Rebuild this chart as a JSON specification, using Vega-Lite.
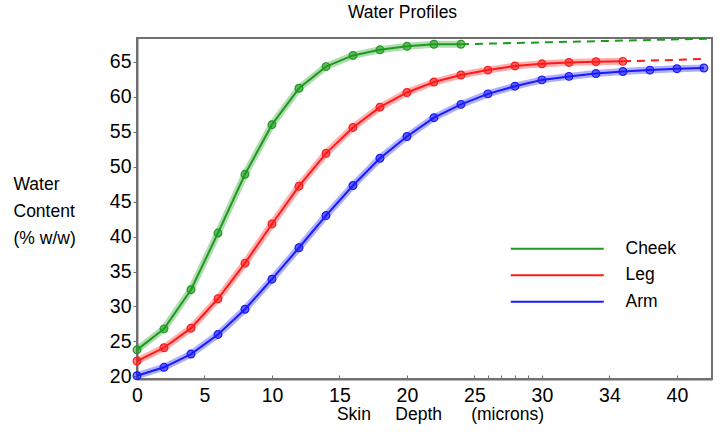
{
  "$schema": "https://vega.github.io/schema/vega-lite/v6.json",
  "width": 575,
  "height": 341,
  "autosize": {"type": "none"},
  "padding": {"left": 137, "top": 38, "right": 8, "bottom": 56},
  "background": "white",
  "title": {
    "text": "Water Profiles",
    "fontSize": 17.5,
    "fontWeight": "normal",
    "font": "Liberation Sans",
    "anchor": "middle",
    "dx": -22,
    "baseline": "bottom",
    "offset": -9
  },
  "config": {
    "font": "Liberation Sans",
    "view": {"stroke": "#707070", "strokeWidth": 2},
    "axis": {
      "grid": false,
      "domainColor": "#707070",
      "domainWidth": 2,
      "tickColor": "#707070",
      "labelColor": "black",
      "labelFont": "Liberation Sans",
      "labelFontSize": 19.5,
      "titleFont": "Liberation Sans",
      "titleFontWeight": "normal",
      "titleFontSize": 17.5,
      "titleColor": "black"
    },
    "legend": {"labelFont": "Liberation Sans"}
  },
  "datasets": {
    "profile": [
      {"site": "Cheek", "depth": 0, "water": 23.8},
      {"site": "Cheek", "depth": 2, "water": 26.8},
      {"site": "Cheek", "depth": 4, "water": 32.4},
      {"site": "Cheek", "depth": 6, "water": 40.5},
      {"site": "Cheek", "depth": 8, "water": 48.9},
      {"site": "Cheek", "depth": 10, "water": 56.0},
      {"site": "Cheek", "depth": 12, "water": 61.2},
      {"site": "Cheek", "depth": 14, "water": 64.3},
      {"site": "Cheek", "depth": 16, "water": 65.9},
      {"site": "Cheek", "depth": 18, "water": 66.7},
      {"site": "Cheek", "depth": 20, "water": 67.2},
      {"site": "Cheek", "depth": 22, "water": 67.5},
      {"site": "Cheek", "depth": 24, "water": 67.5},
      {"site": "Leg", "depth": 0, "water": 22.2},
      {"site": "Leg", "depth": 2, "water": 24.1},
      {"site": "Leg", "depth": 4, "water": 26.9},
      {"site": "Leg", "depth": 6, "water": 31.1},
      {"site": "Leg", "depth": 8, "water": 36.2},
      {"site": "Leg", "depth": 10, "water": 41.8},
      {"site": "Leg", "depth": 12, "water": 47.2},
      {"site": "Leg", "depth": 14, "water": 51.9},
      {"site": "Leg", "depth": 16, "water": 55.6},
      {"site": "Leg", "depth": 18, "water": 58.5},
      {"site": "Leg", "depth": 20, "water": 60.6},
      {"site": "Leg", "depth": 22, "water": 62.1},
      {"site": "Leg", "depth": 24, "water": 63.1},
      {"site": "Leg", "depth": 26, "water": 63.8},
      {"site": "Leg", "depth": 28, "water": 64.4},
      {"site": "Leg", "depth": 30, "water": 64.7},
      {"site": "Leg", "depth": 32, "water": 64.9},
      {"site": "Leg", "depth": 34, "water": 65.0},
      {"site": "Leg", "depth": 36, "water": 65.05},
      {"site": "Arm", "depth": 0, "water": 20.1},
      {"site": "Arm", "depth": 2, "water": 21.3},
      {"site": "Arm", "depth": 4, "water": 23.2},
      {"site": "Arm", "depth": 6, "water": 26.0},
      {"site": "Arm", "depth": 8, "water": 29.6},
      {"site": "Arm", "depth": 10, "water": 33.9},
      {"site": "Arm", "depth": 12, "water": 38.4},
      {"site": "Arm", "depth": 14, "water": 43.0},
      {"site": "Arm", "depth": 16, "water": 47.3},
      {"site": "Arm", "depth": 18, "water": 51.2},
      {"site": "Arm", "depth": 20, "water": 54.3},
      {"site": "Arm", "depth": 22, "water": 57.0},
      {"site": "Arm", "depth": 24, "water": 58.9},
      {"site": "Arm", "depth": 26, "water": 60.4},
      {"site": "Arm", "depth": 28, "water": 61.5},
      {"site": "Arm", "depth": 30, "water": 62.4},
      {"site": "Arm", "depth": 32, "water": 62.9},
      {"site": "Arm", "depth": 34, "water": 63.3},
      {"site": "Arm", "depth": 36, "water": 63.6},
      {"site": "Arm", "depth": 38, "water": 63.8},
      {"site": "Arm", "depth": 40, "water": 64.0},
      {"site": "Arm", "depth": 42, "water": 64.1}
    ],
    "extension": [
      {"site": "Cheek", "depth": 24, "water": 67.5},
      {"site": "Cheek", "depth": 42.5, "water": 68.3},
      {"site": "Leg", "depth": 36, "water": 65.05},
      {"site": "Leg", "depth": 42.2, "water": 65.4}
    ]
  },
  "encoding": {
    "x": {
      "field": "depth",
      "type": "quantitative",
      "title": "Skin\u00a0\u00a0\u00a0\u00a0\u00a0Depth\u00a0\u00a0\u00a0\u00a0\u00a0\u00a0(microns)",
      "scale": {"domain": [0, 42.6], "nice": false, "zero": false},
      "axis": {
        "values": [0, 5, 10, 15, 20, 25, 26, 27, 28, 29, 30, 35, 40],
        "labelExpr": "datum.value > 25 && datum.value < 30 ? '' : (datum.value == 35 ? '34' : datum.label)",
        "tickSize": -4,
        "labelPadding": 11,
        "labelFlush": false,
        "labelOverlap": false,
        "titleX": 303,
        "titleY": 35,
        "titleAnchor": null,
        "titleAlign": "center",
        "titleBaseline": "middle"
      }
    },
    "y": {
      "field": "water",
      "type": "quantitative",
      "title": ["Water", "Content", "(% w/w)"],
      "scale": {"domain": [19.63, 68.39], "nice": false, "zero": false},
      "axis": {
        "values": [20, 25, 30, 35, 40, 45, 50, 55, 60, 65],
        "tickSize": 4,
        "labelPadding": 2,
        "labelFlush": false,
        "labelOverlap": false,
        "titleAngle": 0,
        "titleX": -124,
        "titleY": 151,
        "titleAlign": "left",
        "titleBaseline": "alphabetic",
        "titleLineHeight": 27
      }
    },
    "color": {
      "field": "site",
      "type": "nominal",
      "scale": {"domain": ["Cheek", "Leg", "Arm"], "range": ["#1f9a1f", "#ff1a1a", "#1a1aff"]},
      "legend": {
        "title": null,
        "orient": "none",
        "padding": 0,
        "legendX": 411.5,
        "legendY": 202,
        "symbolType": "M-9.3,0H9.3",
        "symbolSize": 100,
        "symbolStrokeWidth": 2,
        "labelFontSize": 17.5,
        "labelColor": "black",
        "labelOffset": 59.5,
        "rowPadding": 7.5,
        "encode": {
          "symbols": {
            "update": {
              "stroke": {"signal": "datum.label === 'Cheek' ? '#2e9e5e' : scale('color', datum.value)"},
              "fill": {"value": "transparent"},
              "strokeDash": {"value": []},
              "opacity": {"value": 1}
            }
          }
        }
      }
    }
  },
  "layer": [
    {
      "data": {"name": "extension"},
      "mark": {"type": "line", "strokeWidth": 2, "strokeDash": [8, 6]}
    },
    {
      "data": {"name": "profile"},
      "mark": {"type": "line", "strokeWidth": 7, "opacity": 0.35}
    },
    {
      "data": {"name": "profile"},
      "mark": {"type": "line", "strokeWidth": 2}
    },
    {
      "data": {"name": "profile"},
      "mark": {"type": "point", "filled": true, "size": 60, "fillOpacity": 0.55, "strokeWidth": 1.2, "strokeOpacity": 1},
      "encoding": {
        "stroke": {
          "field": "site",
          "type": "nominal",
          "scale": {"domain": ["Cheek", "Leg", "Arm"], "range": ["#1f9a1f", "#ff1a1a", "#1a1aff"]},
          "legend": null
        }
      }
    }
  ]
}
